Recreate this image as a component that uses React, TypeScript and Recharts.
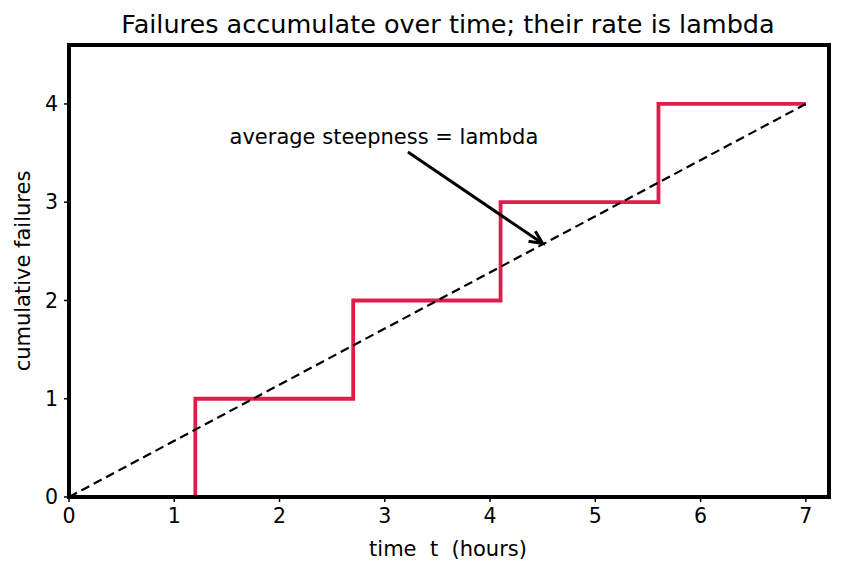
import React from 'react';
import { ComposedChart, Line, XAxis, YAxis, ReferenceArea, ReferenceLine } from 'recharts';

// failure times (hours) and the running count after each one
const eventTimes = [0, 1.2, 2.7, 4.1, 5.6, 7.0];
const cumulativeCounts = [0, 1, 2, 3, 4, 4];

// straight line for the average rate
const rateTimes = [0, 7];
const rateValues = [0, 4];

const xTicks = [0, 1, 2, 3, 4, 5, 6, 7];
const yTicks = [0, 1, 2, 3, 4];

const stepData = eventTimes.map((t, i) => ({ t, n: cumulativeCounts[i] }));
const rateData = rateTimes.map((t, i) => ({ t, n: rateValues[i] }));

const font = '"DejaVu Sans", sans-serif';

const Arrow = (props: any) => {
  const { x1, y1, x2, y2 } = props;
  const ang = Math.atan2(y2 - y1, x2 - x1);
  const len = 13;
  const w = 6;
  const bx = x2 - len * Math.cos(ang);
  const by = y2 - len * Math.sin(ang);
  const px = -Math.sin(ang) * w;
  const py = Math.cos(ang) * w;
  return (
    <g>
      <line x1={x1} y1={y1} x2={x2 - 3 * Math.cos(ang)} y2={y2 - 3 * Math.sin(ang)} stroke="#000" strokeWidth={3} />
      <polyline
        points={`${bx + px},${by + py} ${x2},${y2} ${bx - px},${by - py}`}
        fill="none"
        stroke="#000"
        strokeWidth={3}
      />
      <text x={x1 - 24} y={y1 - 8} textAnchor="middle" fontFamily={font} fontSize={21} fill="#000">
        average steepness = lambda
      </text>
    </g>
  );
};

export default function App() {
  return (
    <div style={{ position: 'absolute', left: 0, top: 0, width: 842, height: 573, background: '#fff' }}>
      <ComposedChart
        width={842}
        height={573}
        margin={{ top: 45, right: 13, left: 19, bottom: 46 }}
      >
        <XAxis
          type="number"
          dataKey="t"
          domain={[0, 7.22]}
          ticks={xTicks}
          allowDataOverflow
          tickLine={{ stroke: '#000', strokeWidth: 1.5 }}
          tickSize={5}
          tickMargin={6}
          axisLine={false}
          height={30}
          tick={{ fill: '#000', fontSize: 20.5, fontFamily: font }}
        />
        <YAxis
          type="number"
          dataKey="n"
          domain={[0, 4.6]}
          ticks={yTicks}
          allowDataOverflow
          tickLine={{ stroke: '#000', strokeWidth: 1.5 }}
          tickSize={5}
          tickMargin={6}
          axisLine={false}
          width={50}
          tick={{ fill: '#000', fontSize: 20.5, fontFamily: font }}
        />
        <Line
          data={stepData}
          dataKey="n"
          type="stepAfter"
          stroke="#dc1f4a"
          strokeWidth={3.8}
          dot={false}
          isAnimationActive={false}
        />
        <Line
          data={rateData}
          dataKey="n"
          type="linear"
          stroke="#000"
          strokeWidth={2.2}
          strokeDasharray="9 5"
          dot={false}
          isAnimationActive={false}
        />
        <ReferenceLine
          segment={[{ x: 3.22, y: 3.51 }, { x: 4.5, y: 2.58 }]}
          shape={Arrow}
          ifOverflow="visible"
        />
        <ReferenceArea
          x1={0}
          x2={7.22}
          y1={0}
          y2={4.6}
          fill="none"
          stroke="#000"
          strokeWidth={4}
          ifOverflow="visible"
          zIndex={1000}
        />
        <text x={448} y={33} textAnchor="middle" fontFamily={font} fontSize={25.5} fill="#000">
          Failures accumulate over time; their rate is lambda
        </text>
        <text x={448} y={556} textAnchor="middle" fontFamily={font} fontSize={21} fill="#000" xmlSpace="preserve" style={{ whiteSpace: 'pre' }}>
          {'time  t  (hours)'}
        </text>
        <text
          x={30}
          y={271}
          textAnchor="middle"
          fontFamily={font}
          fontSize={21}
          fill="#000"
          transform="rotate(-90 30 271)"
        >
          cumulative failures
        </text>
      </ComposedChart>
    </div>
  );
}
